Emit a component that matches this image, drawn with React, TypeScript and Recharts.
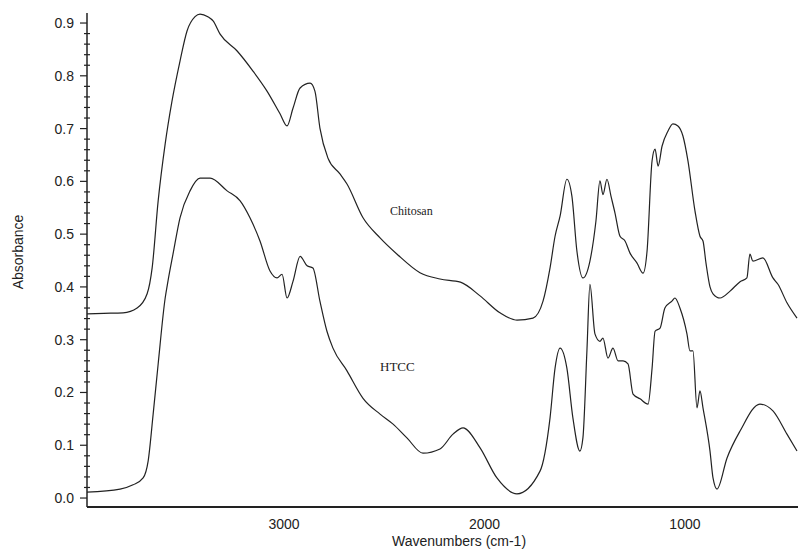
import { Line, LineChart, XAxis, YAxis } from 'recharts';

// FTIR spectra (wavenumber in cm-1, absorbance)
const chitosanWavenumbers = [
  3983, 3900, 3803, 3733, 3683, 3658, 3628, 3593, 3559, 3519, 3484, 3444, 3419, 3380, 3354,
  3319, 3234, 3155, 3085, 3020, 2985, 2955, 2920, 2870, 2846, 2821, 2781, 2721, 2686, 2606,
  2521, 2436, 2322, 2222, 2120, 2022, 1923, 1838, 1758, 1708, 1673, 1648, 1623, 1589, 1564,
  1539, 1509, 1474, 1444, 1424, 1409, 1389, 1369, 1349, 1324, 1299, 1274, 1239, 1209, 1189,
  1164, 1149, 1134, 1114, 1085, 1060, 1035, 1010, 985, 950, 925, 910, 895, 875, 860,
  825, 775, 725, 691, 676, 661, 611, 561, 536, 491, 441,
];
const chitosanAbsorbance = [
  0.349, 0.35, 0.351, 0.36, 0.387, 0.436, 0.563, 0.671, 0.752, 0.828, 0.885, 0.912, 0.917, 0.912, 0.904,
  0.879, 0.847, 0.809, 0.771, 0.728, 0.705, 0.739, 0.777, 0.786, 0.771, 0.701, 0.644, 0.614, 0.595, 0.531,
  0.493, 0.462, 0.427, 0.415, 0.409, 0.383, 0.351, 0.337, 0.341, 0.373, 0.436, 0.496, 0.534, 0.604, 0.572,
  0.468, 0.417, 0.449, 0.525, 0.601, 0.575, 0.604, 0.572, 0.54, 0.496, 0.487, 0.464, 0.445, 0.426, 0.468,
  0.639, 0.661, 0.629, 0.667, 0.695, 0.709, 0.705, 0.686, 0.639, 0.544, 0.496, 0.487, 0.445, 0.4, 0.387,
  0.379, 0.392, 0.41, 0.417, 0.462, 0.449, 0.455, 0.417, 0.405, 0.37, 0.341,
];

const htccWavenumbers = [
  3983, 3818, 3753, 3703, 3678, 3653, 3628, 3593, 3579, 3554, 3519, 3469, 3419, 3369, 3284,
  3219, 3170, 3120, 3070, 3035, 3010, 2985, 2955, 2920, 2885, 2856, 2821, 2786, 2756, 2686,
  2606, 2521, 2456, 2387, 2307, 2222, 2157, 2107, 2022, 1938, 1838, 1723, 1673, 1648, 1623,
  1589, 1559, 1524, 1509, 1489, 1474, 1449, 1424, 1409, 1384, 1359, 1334, 1309, 1284, 1259,
  1224, 1184, 1164, 1149, 1124, 1100, 1065, 1050, 1025, 990, 975, 960, 940, 925, 910,
  875, 860, 840, 790, 725, 626, 561, 491, 441,
];
const htccAbsorbance = [
  0.011, 0.017, 0.025, 0.038, 0.07, 0.159, 0.254, 0.379, 0.411, 0.462, 0.531, 0.582, 0.606, 0.606, 0.582,
  0.563, 0.531, 0.487, 0.43, 0.417, 0.424, 0.379, 0.411, 0.458, 0.44, 0.436, 0.373, 0.316, 0.284, 0.241,
  0.189, 0.159, 0.14, 0.114, 0.085, 0.093, 0.121, 0.133, 0.095, 0.038, 0.008, 0.051, 0.152, 0.246, 0.284,
  0.246, 0.152, 0.089, 0.114, 0.279, 0.405, 0.311, 0.297, 0.303, 0.265, 0.284, 0.26, 0.26, 0.254, 0.197,
  0.188, 0.178, 0.246, 0.316, 0.322, 0.36, 0.373, 0.379, 0.36, 0.311, 0.279, 0.279, 0.171, 0.203, 0.171,
  0.089, 0.038, 0.017, 0.076, 0.127, 0.178, 0.165, 0.121, 0.089,
];

const xTicks = [3000, 2000, 1000];
const yMajorTicks = [0, 0.1, 0.2, 0.3, 0.4, 0.5, 0.6, 0.7, 0.8, 0.9];
const yAllTicks = yMajorTicks.flatMap((t) => (t < 0.9 ? [0, 1, 2, 3, 4].map((i) => +(t + i * 0.02).toFixed(2)) : [t]));

const chitosan = chitosanWavenumbers.map((w, i) => ({ w, a: chitosanAbsorbance[i] }));
const htcc = htccWavenumbers.map((w, i) => ({ w, a: htccAbsorbance[i] }));

const INK = '#222';
const SANS = '"Liberation Sans", Arial, sans-serif';
const SERIF = '"Liberation Serif", "Times New Roman", serif';

function YTick(props: any) {
  const { x, y, payload } = props;
  const v = payload.value as number;
  const major = Math.abs(v * 10 - Math.round(v * 10)) < 1e-6;
  return (
    <g>
      <line x1={x - (major ? 7 : 3)} x2={x + (major ? 0 : 3)} y1={y} y2={y} stroke={INK} strokeWidth={1.2} />
      {major && (
        <text x={x - 13} y={y + 5} textAnchor="end" fontSize={14} fontFamily={SANS} fill={INK}>
          {v.toFixed(1)}
        </text>
      )}
    </g>
  );
}

function XTick(props: any) {
  const { x, y, payload } = props;
  return (
    <text x={x} y={y + 20} textAnchor="middle" fontSize={14} fontFamily={SANS} fill={INK}>
      {payload.value}
    </text>
  );
}

export default function App() {
  return (
    <div style={{ position: 'absolute', left: 0, top: 0, width: 798, height: 552, background: '#fff' }}>
      <LineChart width={798} height={552} margin={{ top: 13, right: 0, bottom: 0, left: 0 }}>
        <XAxis
          xAxisId="top" orientation="top" type="number" dataKey="w"
          domain={[436, 3983]} reversed height={0}
          tick={false} tickLine={false} axisLine={{ stroke: INK, strokeWidth: 1.5 }}
        />
        <XAxis
          type="number" dataKey="w" domain={[436, 3983]} reversed allowDataOverflow
          ticks={xTicks} tick={<XTick />} tickLine={false} tickSize={0} height={45}
          axisLine={{ stroke: INK, strokeWidth: 1.8 }}
        />
        <YAxis
          type="number" domain={[-0.017, 0.919]} allowDataOverflow
          ticks={yAllTicks} interval={0} tick={<YTick />} tickLine={false} tickSize={0} tickMargin={0}
          width={87} axisLine={{ stroke: INK, strokeWidth: 1.5 }}
        />
        <Line
          data={chitosan} dataKey="a" type="monotone" stroke={INK} strokeWidth={1.2}
          dot={false} isAnimationActive={false}
        />
        <Line
          data={htcc} dataKey="a" type="monotone" stroke={INK} strokeWidth={1.2}
          dot={false} isAnimationActive={false}
        />
      </LineChart>
      <div style={{ position: 'absolute', left: 390, top: 204, fontFamily: SERIF, fontSize: 12, color: INK }}>Chitosan</div>
      <div style={{ position: 'absolute', left: 380, top: 359, fontFamily: SERIF, fontSize: 13, color: INK }}>HTCC</div>
      <div style={{ position: 'absolute', left: 392, top: 533, fontFamily: SANS, fontSize: 14, color: INK, whiteSpace: 'nowrap' }}>
        Wavenumbers (cm-1)
      </div>
      <div
        style={{
          position: 'absolute', left: 18, top: 252, fontFamily: SANS, fontSize: 14, color: INK,
          whiteSpace: 'nowrap', transform: 'translate(-50%, -50%) rotate(-90deg)',
        }}
      >
        Absorbance
      </div>
    </div>
  );
}
